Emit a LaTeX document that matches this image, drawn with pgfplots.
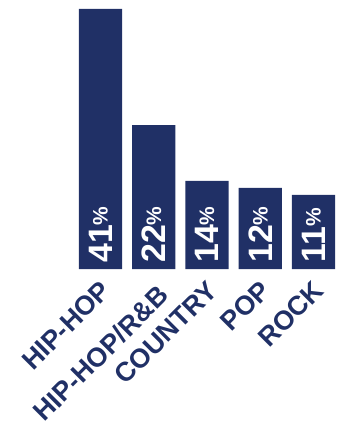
\documentclass[border=0pt]{standalone}
\usepackage{pgfplots}
\pgfplotsset{compat=1.18}
\usepackage{fontspec}
\setmainfont{Liberation Sans}
\definecolor{navy}{RGB}{32,48,102}
\begin{document}
\begin{tikzpicture}
\useasboundingbox (0,0) rectangle (347bp,428bp);
\begin{axis}[
  at={(73.9bp,159bp)}, anchor=south west,
  scale only axis, width=266.25bp, height=260bp,
  xmin=-0.5, xmax=4.5, ymin=0, ymax=41,
  axis line style={draw=none},
  ymajorticks=false,
  xtick={0,1,2,3,4},
  xticklabels={HIP-HOP, {\raisebox{-6bp}[\height][0pt]{HIP-HOP/R\&B}\hspace{3bp}}, COUNTRY, POP, ROCK},
  major tick length=0pt,
  xticklabel style={rotate=45, anchor=north east, font=\fontsize{27}{27}\selectfont\bfseries, text=navy, inner sep=0pt, xshift=-8bp, yshift=-6bp},
  clip=false,
]
\addplot[ybar, bar width=0.81, fill=navy, draw=none] table {
x y
0 41
1 22.7
2 13.9
3 12.8
4 11.7
};
\addplot[draw=none, mark=none, point meta=explicit symbolic,
  nodes near coords={\fontsize{34}{34}\selectfont\bfseries\pgfplotspointmeta\raisebox{4.5bp}{\fontsize{21}{21}\selectfont\%}},
  nodes near coords style={rotate=90, anchor=west, text=white, inner ysep=0pt, inner xsep=6bp}]
table[meta=label] {
x y label
0 0 41
1 0 22
2 0 14
3 0 12
4 0 11
};
\end{axis}
\end{tikzpicture}
\end{document}
